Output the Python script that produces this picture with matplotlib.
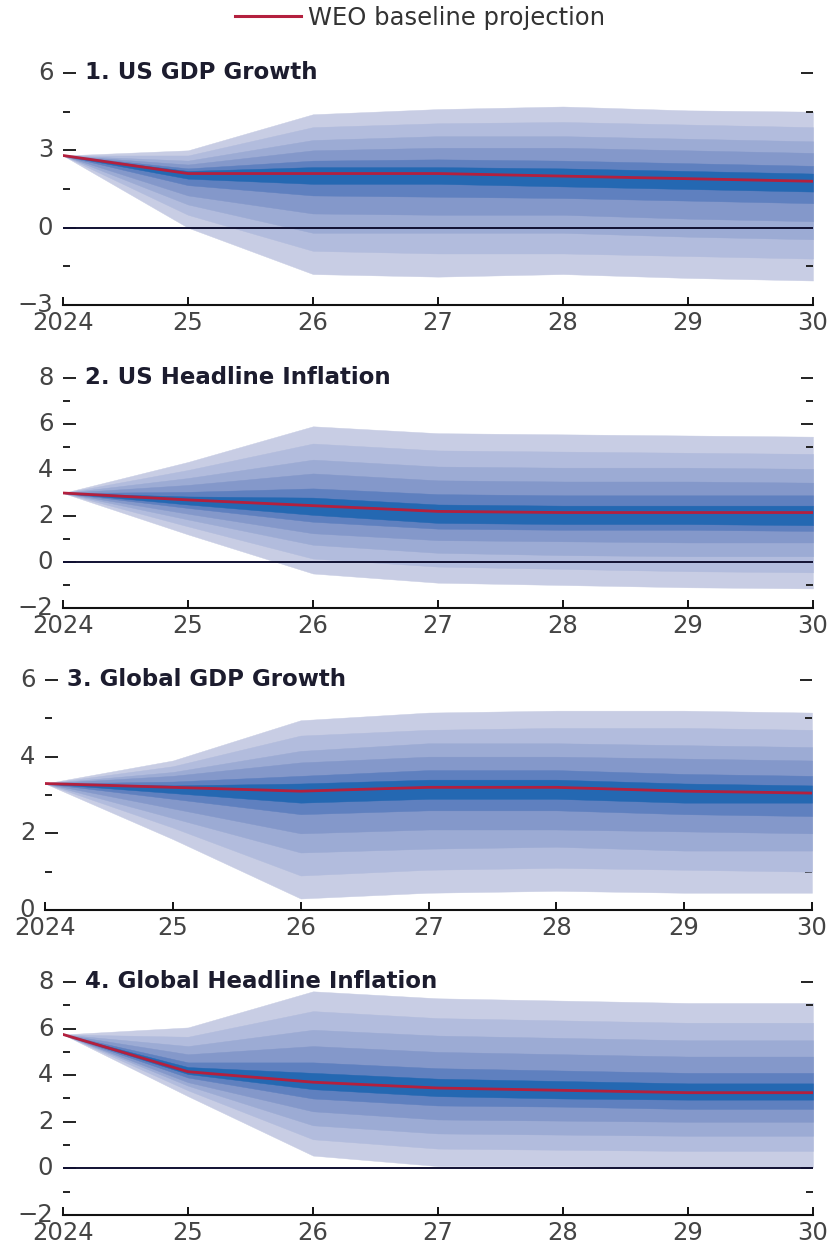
import matplotlib
matplotlib.use("Agg")
import matplotlib.pyplot as plt
from matplotlib.lines import Line2D
import numpy as np

plt.rcParams['font.family'] = ['DejaVu Sans']

years = [2024, 2025, 2026, 2027, 2028, 2029, 2030]
year_labels = ['2024', '25', '26', '27', '28', '29', '30']

# ---------- Panel 1: US GDP Growth ----------
us_gdp_base = [2.8, 2.1, 2.1, 2.1, 2.0, 1.9, 1.8]
us_gdp_hi = [
    [2.8, 3.0, 4.4, 4.6, 4.7, 4.55, 4.5],
    [2.8, 2.8, 3.9, 4.05, 4.1, 4.0, 3.9],
    [2.8, 2.6, 3.4, 3.55, 3.55, 3.45, 3.35],
    [2.8, 2.45, 3.0, 3.1, 3.1, 3.0, 2.9],
    [2.8, 2.3, 2.6, 2.65, 2.6, 2.5, 2.4],
    [2.8, 2.2, 2.35, 2.35, 2.3, 2.2, 2.1],
]
us_gdp_lo = [
    [2.8, 0.0, -1.8, -1.9, -1.8, -1.95, -2.05],
    [2.8, 0.5, -0.9, -1.0, -1.0, -1.1, -1.2],
    [2.8, 0.9, -0.2, -0.2, -0.2, -0.35, -0.45],
    [2.8, 1.25, 0.55, 0.5, 0.5, 0.35, 0.25],
    [2.8, 1.65, 1.25, 1.2, 1.15, 1.05, 0.95],
    [2.8, 1.9, 1.7, 1.7, 1.6, 1.5, 1.4],
]

# ---------- Panel 2: US Headline Inflation ----------
us_inf_base = [3.0, 2.7, 2.45, 2.2, 2.15, 2.15, 2.15]
us_inf_hi = [
    [3.0, 4.35, 5.9, 5.6, 5.55, 5.5, 5.45],
    [3.0, 4.0, 5.15, 4.85, 4.8, 4.75, 4.7],
    [3.0, 3.65, 4.45, 4.15, 4.1, 4.1, 4.05],
    [3.0, 3.35, 3.85, 3.55, 3.5, 3.5, 3.45],
    [3.0, 3.05, 3.2, 2.95, 2.9, 2.9, 2.9],
    [3.0, 2.85, 2.8, 2.5, 2.45, 2.45, 2.45],
]
us_inf_lo = [
    [3.0, 1.2, -0.5, -0.9, -1.0, -1.1, -1.15],
    [3.0, 1.55, 0.15, -0.2, -0.3, -0.4, -0.45],
    [3.0, 1.85, 0.75, 0.4, 0.3, 0.25, 0.25],
    [3.0, 2.1, 1.25, 0.95, 0.9, 0.85, 0.85],
    [3.0, 2.35, 1.75, 1.45, 1.4, 1.4, 1.35],
    [3.0, 2.5, 2.05, 1.7, 1.65, 1.65, 1.6],
]

# ---------- Panel 3: Global GDP Growth ----------
gl_gdp_base = [3.3, 3.2, 3.1, 3.2, 3.2, 3.1, 3.05]
gl_gdp_hi = [
    [3.3, 3.9, 4.95, 5.15, 5.2, 5.2, 5.15],
    [3.3, 3.75, 4.55, 4.7, 4.75, 4.75, 4.7],
    [3.3, 3.6, 4.15, 4.35, 4.35, 4.3, 4.25],
    [3.3, 3.5, 3.85, 4.0, 4.0, 3.95, 3.9],
    [3.3, 3.35, 3.5, 3.65, 3.65, 3.55, 3.5],
    [3.3, 3.25, 3.3, 3.4, 3.4, 3.3, 3.25],
]
gl_gdp_lo = [
    [3.3, 1.85, 0.3, 0.45, 0.5, 0.45, 0.45],
    [3.3, 2.15, 0.9, 1.05, 1.1, 1.05, 1.0],
    [3.3, 2.4, 1.5, 1.6, 1.65, 1.55, 1.55],
    [3.3, 2.65, 2.0, 2.1, 2.1, 2.05, 2.0],
    [3.3, 2.9, 2.5, 2.6, 2.6, 2.5, 2.45],
    [3.3, 3.05, 2.8, 2.9, 2.9, 2.8, 2.8],
]

# ---------- Panel 4: Global Headline Inflation ----------
gl_inf_base = [5.75, 4.15, 3.7, 3.45, 3.35, 3.25, 3.25]
gl_inf_hi = [
    [5.75, 6.05, 7.6, 7.3, 7.2, 7.1, 7.1],
    [5.75, 5.65, 6.75, 6.45, 6.35, 6.25, 6.25],
    [5.75, 5.25, 5.95, 5.7, 5.6, 5.5, 5.5],
    [5.75, 4.9, 5.25, 5.0, 4.9, 4.8, 4.8],
    [5.75, 4.55, 4.55, 4.3, 4.2, 4.1, 4.1],
    [5.75, 4.35, 4.1, 3.85, 3.75, 3.65, 3.65],
]
gl_inf_lo = [
    [5.75, 3.1, 0.55, 0.1, 0.1, 0.05, 0.05],
    [5.75, 3.35, 1.25, 0.85, 0.8, 0.75, 0.75],
    [5.75, 3.55, 1.85, 1.5, 1.45, 1.4, 1.4],
    [5.75, 3.7, 2.45, 2.1, 2.05, 2.0, 2.0],
    [5.75, 3.9, 3.0, 2.7, 2.65, 2.55, 2.55],
    [5.75, 4.05, 3.4, 3.1, 3.0, 2.95, 2.95],
]

titles = ['1. US GDP Growth', '2. US Headline Inflation',
          '3. Global GDP Growth', '4. Global Headline Inflation']
ylims = [(-3, 6), (-2, 8), (0, 6), (-2, 8)]
major_ticks = [[-3, 0, 3, 6], [-2, 0, 2, 4, 6, 8], [0, 2, 4, 6], [-2, 0, 2, 4, 6, 8]]
major_labels = [['\u22123', '0', '3', '6'], ['\u22122', '0', '2', '4', '6', '8'],
                ['0', '2', '4', '6'], ['\u22122', '0', '2', '4', '6', '8']]
minor_ticks = [[-1.5, 1.5, 4.5], [-1, 1, 3, 5, 7], [1, 3, 5], [-1, 1, 3, 5, 7]]

band_colors = ['#c8cde4', '#b2bcdd', '#9cabd4', '#8498ca', '#5f80bf', '#2468b2']
base_color = '#b3203e'

W, H = 830, 1243
fig = plt.figure(figsize=(W / 100, H / 100), dpi=100)

# axes boxes in pixels: left, right, top, bottom
boxes = [(63, 813, 73, 305), (63, 813, 378, 608), (45, 812, 680, 910), (63, 813, 982, 1215)]

panels = [
    (us_gdp_base, us_gdp_hi, us_gdp_lo),
    (us_inf_base, us_inf_hi, us_inf_lo),
    (gl_gdp_base, gl_gdp_hi, gl_gdp_lo),
    (gl_inf_base, gl_inf_hi, gl_inf_lo),
]

fs = 17.5
for i, (base, hi, lo) in enumerate(panels):
    l, r, t, b = boxes[i]
    ax = fig.add_axes([l / W, 1 - b / H, (r - l) / W, (b - t) / H])
    for k in range(len(hi)):
        ax.fill_between(years, lo[k], hi[k], color=band_colors[k],
                        linewidth=0.3, edgecolor=band_colors[k], zorder=1 + k)
    ax.axhline(0, color='#111133', lw=1.4, zorder=10)
    ax.plot(years, base, color=base_color, lw=2.0, zorder=11)

    ax.set_xlim(2024, 2030)
    ax.set_ylim(*ylims[i])
    for s in ['top', 'left', 'right']:
        ax.spines[s].set_visible(False)
    ax.spines['bottom'].set_linewidth(1.5)
    ax.spines['bottom'].set_color('#111111')
    ax.spines['bottom'].set_zorder(12)

    ax.set_xticks(years)
    ax.set_xticklabels(year_labels)
    ax.tick_params(axis='x', direction='in', length=6, width=1.4, color='#111111',
                   labelsize=fs, labelcolor='#444444', pad=4)

    ax.set_yticks(major_ticks[i])
    ax.set_yticklabels(major_labels[i])
    ax.set_yticks(minor_ticks[i], minor=True)
    ax.tick_params(axis='y', which='major', direction='in', length=9, width=1.4,
                   left=True, right=True, color='#222222',
                   labelsize=fs, labelcolor='#444444', pad=7)
    ax.tick_params(axis='y', which='minor', direction='in', length=5, width=1.4,
                   left=True, right=True, color='#222222')
    for lab in ax.get_yticklabels():
        lab.set_verticalalignment('center')

    ax.annotate(titles[i], xy=(0, ylims[i][1]), xycoords=('axes fraction', 'data'),
                xytext=(16, 0), textcoords='offset points', va='center', ha='left',
                fontsize=16.5, fontweight='bold', color='#1c1c2e', annotation_clip=False)

handle = Line2D([], [], color=base_color, lw=2.2)
fig.legend([handle], ['WEO baseline projection'], loc='center',
           bbox_to_anchor=(0.506, 1 - 18 / H), frameon=False, fontsize=fs,
           handlelength=2.7, handletextpad=0.3, labelcolor='#333333')

fig.savefig('out.png', dpi=100)
